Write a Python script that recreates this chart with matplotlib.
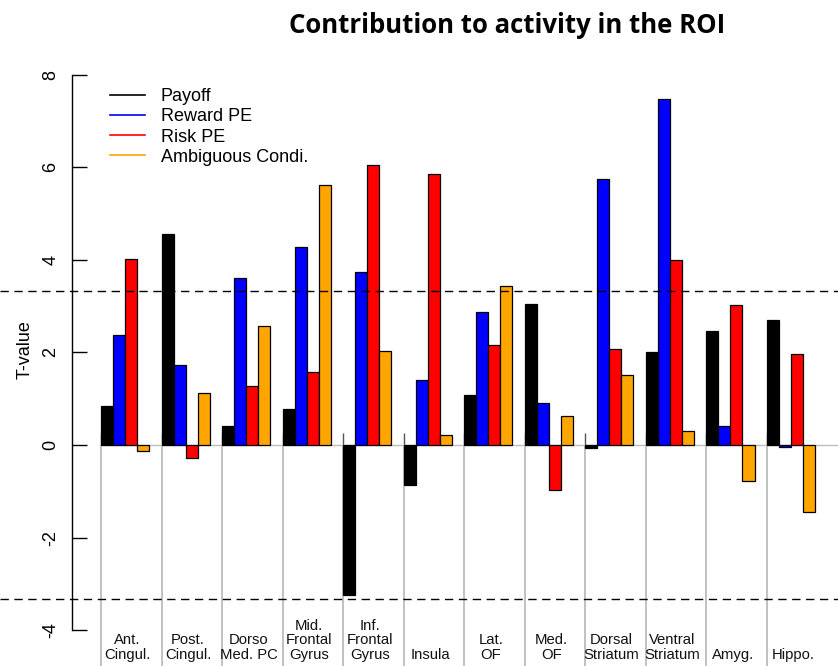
import numpy as np
import matplotlib.pyplot as plt
from matplotlib.lines import Line2D

# T-values per region of interest, one list per regressor
regions = ["Ant.\nCingul.", "Post.\nCingul.", "Dorso\nMed. PC", "Mid.\nFrontal\nGyrus",
           "Inf.\nFrontal\nGyrus", "Insula", "Lat.\nOF", "Med.\nOF",
           "Dorsal\nStriatum", "Ventral\nStriatum", "Amyg.", "Hippo."]
payoff = [0.84, 4.56, 0.42, 0.77, -3.23, -0.86, 1.07, 3.05, -0.06, 2.01, 2.46, 2.69]
reward_pe = [2.37, 1.72, 3.61, 4.28, 3.74, 1.40, 2.87, 0.91, 5.74, 7.47, 0.41, -0.05]
risk_pe = [4.01, -0.27, 1.28, 1.57, 6.05, 5.85, 2.16, -0.97, 2.07, 3.99, 3.02, 1.97]
ambiguous = [-0.14, 1.12, 2.58, 5.62, 2.04, 0.21, 3.44, 0.63, 1.51, 0.31, -0.78, -1.44]

series_names = ["Payoff", "Reward PE", "Risk PE", "Ambiguous Condi."]
series_colors = ["black", "blue", "red", "orange"]
threshold = 3.33

plt.rcParams['font.family'] = ['Liberation Sans', 'DejaVu Sans']
plt.rcParams['axes.unicode_minus'] = False

fig = plt.figure(figsize=(8.38, 6.66), dpi=100)
ax = fig.add_axes([0, 0, 1, 1])

n = len(regions)
group_left = 1 + 5 * np.arange(n)

series = [payoff, reward_pe, risk_pe, ambiguous]
for j, (vals, col) in enumerate(zip(series, series_colors)):
    ax.bar(group_left + j, vals, width=1, align='edge', color=col,
           edgecolor='black', linewidth=0.9, zorder=3)

# separators between regions and zero line
ax.vlines(group_left, -5, 0, colors='#b0b0b0', lw=1.1, zorder=1)
ax.vlines(group_left, 0, 0.25, colors='#555555', lw=1.0, zorder=1)
ax.hlines(0, group_left[0], 62, colors='#bdbdbd', lw=1.0, zorder=1)

# significance thresholds
for t in (threshold, -threshold):
    ax.axhline(t, color='black', lw=1.0, ls=(0, (6, 4)), zorder=4)

for x, lab in zip(group_left, regions):
    ax.text(x + 2.2, -4.62, lab, ha='center', va='baseline', fontsize=10.7,
            linespacing=1.05, color='#111111')

ax.set_xlim(-7.35, 61.9)
ax.set_ylim(-4.773, 9.611)

for side in ('top', 'right', 'bottom'):
    ax.spines[side].set_visible(False)
ax.spines['left'].set_position(('data', -1.4))
ax.spines['left'].set_bounds(-4, 8)
ax.spines['left'].set_linewidth(1.0)
ax.set_xticks([])
ax.set_yticks([-4, -2, 0, 2, 4, 6, 8])
ax.set_yticklabels(['-4', '-2', '0', '2', '4', '6', '8'], rotation=90, va='center')
ax.tick_params(axis='y', direction='in', length=11, width=1.0, labelsize=13, pad=9)

fig.text(25 / 838, 1 - 350 / 666, "T-value", rotation=90, ha='center', va='center',
         fontsize=13)

handles = [Line2D([], [], color=c, lw=1.2) for c in series_colors]
ax.legend(handles, series_names, loc='upper left', bbox_to_anchor=(110 / 838, 1 - 88 / 666),
          bbox_transform=fig.transFigure, frameon=False, fontsize=13,
          handlelength=1.95, handletextpad=0.85, labelspacing=0.18,
          borderpad=0, borderaxespad=0)

fig.text(507 / 838, 1 - 33 / 666, "Contribution to activity in the ROI", ha='center',
         va='baseline', fontsize=18.5, fontweight='bold', family=['Open Sans', 'DejaVu Sans'])

fig.savefig("out.png", dpi=100)
